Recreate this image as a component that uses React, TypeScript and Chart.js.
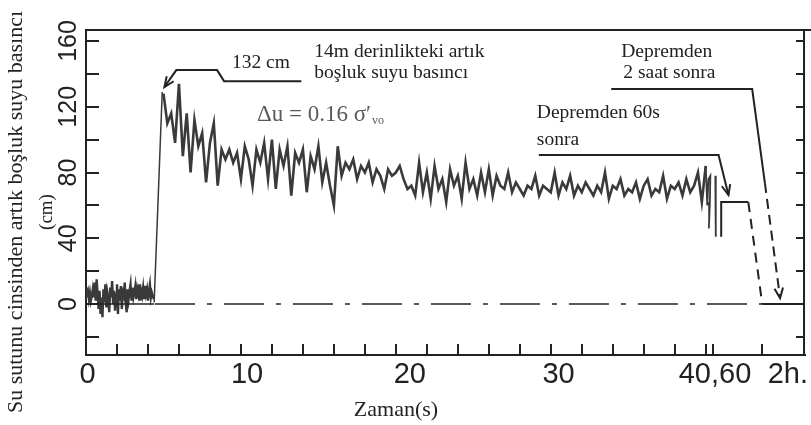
import React, { useEffect, useRef } from "react";
import { Chart, registerables } from "chart.js";
Chart.register(...registerables);

// ---------- data (time in s; after 40 s the axis is compressed: 40.5 = 60 s, 43.65 = 2 h) ----------
const PRE_STEP = 0.0625;
const PRE_VALUES = [
  10, 6, 8, 3, 7, 2, 5, 9, 4, 13, 2, 15, 6, -3, 8, -6, 4, -8, 9, 1,
  12, -2, 7, 3, -5, 10, 4, 14, 0, 8, -4, 6, 12, -6, 9, 2, 11, -3, 7, 5,
  13, 1, -5, 9, 3, 8, 12, 2, 10, 4, 7, 11, 3, 9, 6, 12, 2, 8, 5, 10,
  3, 11, 6, 9, 2, 8, 12, 4, 7, 5, 3,
];
const PRE_BASE_TIMES = [0, 4.4];
const PRE_BASE_VALUES = [0, 0];
const RISE_TIMES = [4.4, 4.92];
const RISE_VALUES = [1, 129];
const MAIN_START = 5;
const MAIN_STEP = 0.25;
const MAIN_VALUES = [
  128, 110, 116, 98, 134, 90, 116, 80, 112, 96, 104, 74, 98, 110, 72, 94,
  88, 94, 86, 92, 76, 96, 88, 72, 94, 86, 98, 76, 100, 70, 94, 84,
  96, 66, 92, 86, 94, 68, 90, 82, 96, 74, 86, 72, 60, 96, 78, 86,
  82, 88, 76, 84, 80, 86, 74, 82, 78, 70, 82, 78, 80, 84, 76, 70,
  72, 66, 86, 68, 80, 64, 84, 70, 76, 62, 82, 72, 78, 64, 86, 70,
  76, 66, 80, 68, 82, 66, 78, 72, 70, 80, 68, 74, 70, 66, 72, 70,
  78, 66, 72, 70, 68, 80, 66, 74, 70, 78, 66, 72, 68, 74, 70, 66,
  72, 68, 80, 64, 72, 70, 76, 66, 70, 68, 74, 64, 72, 76, 66, 70,
  68, 78, 64, 72, 70, 74, 66, 76, 68, 72, 80, 62, 84,
];
const END_SQUIGGLE_TIMES = [40.0, 40.1, 40.18, 40.3, 40.27, 40.22, 40.2];
const END_SQUIGGLE_VALUES = [84, 60, 76, 78, 62, 50, 46];
const END_DROP_TIMES = [40.62, 40.65];
const END_DROP_VALUES = [78, 41];
const STEP_TIMES = [41.0, 41.0, 42.75];
const STEP_VALUES = [41, 62, 62];
const DISSIPATION_TIMES = [42.75, 43.65];
const DISSIPATION_VALUES = [62, 0];
const AFTER_TIMES = [43.65, 46.41];
const AFTER_VALUES = [0, 0];
const BASELINE_TIMES = [4.45, 43.65];
const BASELINE_VALUES = [0, 0];

// ---------- axes ----------
const X_MIN = 0;
const X_MAX = 46.41;
const Y_MIN = -31;
const Y_MAX = 166.7;
const X_LABEL_POS = [0.1, 10.4, 20.9, 30.5, 40.6, 45.3];
const X_LABELS = ["0", "10", "20", "30", "40,60", "2h."];
const X_TICK_MARKS = [2, 4, 6, 8, 10, 12, 14, 16, 18, 20, 22, 24, 26, 28, 30, 32, 34, 36, 38, 40, 40.5, 43.65];
const Y_LABELS = [0, 40, 80, 120, 160];
const Y_TICK_MARKS = [-20, 0, 20, 40, 60, 80, 100, 120, 140, 160];

// ---------- annotations (data units) ----------
const PEAK_ARROW = [[13.9, 135.6], [8.91, 135.6], [8.46, 142.3], [5.83, 142.3], [5.06, 132]];
const SIXTY_ARROW = [[29.23, 90.6], [40.83, 90.6], [41.47, 66.3]];
const TWOH_ARROW_SOLID = [[33.9, 130.8], [43.0, 130.8], [43.82, 73.6]];
const TWOH_ARROW_DASHED = [[43.82, 73.6], [44.8, 3.6]];
const TEXTS = [
  { text: "132 cm", x: 9.42, y: 146.6 },
  { text: "14m derinlikteki artık", x: 14.74, y: 153.3 },
  { text: "boşluk suyu basıncı", x: 14.74, y: 140.5 },
  { text: "Depremden", x: 34.55, y: 153.3 },
  { text: "2 saat sonra", x: 34.68, y: 140.5 },
  { text: "Depremden 60s", x: 29.1, y: 116 },
  { text: "sonra", x: 29.1, y: 99.8 },
];
const DELTA_POS = { x: 11.03, y: 115 };

const Y_TITLE = "Su sutunu cinsinden artık boşluk suyu basıncı";
const Y_UNIT = "(cm)";
const X_TITLE = "Zaman(s)";

const INK = "#222";
const TRACE = "#3a3a3a";
const SERIF = "'Liberation Serif', 'Times New Roman', serif";
const SANS = "'Liberation Sans', Arial, sans-serif";

const pts = (ts: number[], vs: number[]) => ts.map((t, i) => ({ x: t, y: vs[i] }));
const seq = (start: number, step: number, vs: number[]) => vs.map((v, i) => ({ x: start + i * step, y: v }));

function arrowHead(ctx: CanvasRenderingContext2D, fx: number, fy: number, tx: number, ty: number) {
  const a = Math.atan2(ty - fy, tx - fx);
  const len = 11;
  ctx.beginPath();
  ctx.moveTo(tx - len * Math.cos(a - 0.4), ty - len * Math.sin(a - 0.4));
  ctx.lineTo(tx, ty);
  ctx.lineTo(tx - len * Math.cos(a + 0.4), ty - len * Math.sin(a + 0.4));
  ctx.stroke();
}

const figurePlugin = {
  id: "figure",
  afterDraw(chart: any) {
    const ctx: CanvasRenderingContext2D = chart.ctx;
    const ca = chart.chartArea;
    const sx = chart.scales.x;
    const sy = chart.scales.y;
    const px = (v: number) => sx.getPixelForValue(v);
    const py = (v: number) => sy.getPixelForValue(v);
    ctx.save();
    ctx.strokeStyle = INK;
    ctx.fillStyle = INK;
    ctx.lineCap = "butt";
    // frame top & right
    ctx.lineWidth = 2;
    ctx.beginPath();
    ctx.moveTo(ca.left, ca.top);
    ctx.lineTo(chart.width, ca.top);
    ctx.moveTo(ca.right - 1, ca.top);
    ctx.lineTo(ca.right - 1, ca.bottom);
    ctx.stroke();
    // inward tick marks
    ctx.beginPath();
    X_TICK_MARKS.forEach((v) => {
      const x = Math.round(px(v));
      ctx.moveTo(x, ca.bottom);
      ctx.lineTo(x, ca.bottom - 11);
    });
    Y_TICK_MARKS.forEach((v) => {
      const y = Math.round(py(v));
      ctx.moveTo(ca.left, y);
      ctx.lineTo(ca.left + 13, y);
      ctx.moveTo(ca.right, y);
      ctx.lineTo(ca.right - 9, y);
    });
    ctx.stroke();

    // annotation leader lines
    const poly = (p: number[][], dash: number[]) => {
      ctx.setLineDash(dash);
      ctx.beginPath();
      p.forEach(([t, v], i) => (i ? ctx.lineTo(px(t), py(v)) : ctx.moveTo(px(t), py(v))));
      ctx.stroke();
      ctx.setLineDash([]);
    };
    ctx.lineWidth = 2;
    poly(PEAK_ARROW, []);
    const pa = PEAK_ARROW.length;
    arrowHead(ctx, px(PEAK_ARROW[pa - 2][0]), py(PEAK_ARROW[pa - 2][1]), px(PEAK_ARROW[pa - 1][0]), py(PEAK_ARROW[pa - 1][1]));
    poly(SIXTY_ARROW, []);
    const sa = SIXTY_ARROW.length;
    arrowHead(ctx, px(SIXTY_ARROW[sa - 2][0]), py(SIXTY_ARROW[sa - 2][1]), px(SIXTY_ARROW[sa - 1][0]), py(SIXTY_ARROW[sa - 1][1]));
    poly(TWOH_ARROW_SOLID, []);
    poly(TWOH_ARROW_DASHED, [10, 6]);
    arrowHead(ctx, px(TWOH_ARROW_DASHED[0][0]), py(TWOH_ARROW_DASHED[0][1]), px(TWOH_ARROW_DASHED[1][0]), py(TWOH_ARROW_DASHED[1][1]));

    // annotation texts
    ctx.textAlign = "left";
    ctx.textBaseline = "middle";
    ctx.font = `19.5px ${SERIF}`;
    TEXTS.forEach((t) => ctx.fillText(t.text, px(t.x), py(t.y)));
    ctx.fillStyle = "#5a5a5a";
    const dx = px(DELTA_POS.x);
    const dy = py(DELTA_POS.y);
    const main = "Δu = 0.16 σ′";
    ctx.font = `23px ${SERIF}`;
    ctx.fillText(main, dx, dy);
    const w = ctx.measureText(main).width;
    ctx.font = `12px ${SERIF}`;
    ctx.fillText("vo", dx + w + 1, dy + 6);

    // axis titles
    ctx.fillStyle = INK;
    ctx.textAlign = "center";
    ctx.font = `22px ${SERIF}`;
    ctx.fillText(X_TITLE, 396, 410);
    ctx.save();
    ctx.translate(16, 212);
    ctx.rotate(-Math.PI / 2);
    ctx.font = `22px ${SERIF}`;
    ctx.fillText(Y_TITLE, 0, 0);
    ctx.restore();
    ctx.save();
    ctx.translate(47, 212);
    ctx.rotate(-Math.PI / 2);
    ctx.font = `19px ${SERIF}`;
    ctx.fillText(Y_UNIT, 0, 0);
    ctx.restore();
    ctx.restore();
  },
};

export default function App() {
  const ref = useRef<HTMLCanvasElement | null>(null);
  useEffect(() => {
    if (!ref.current) return;
    const line = (data: any[], extra: any = {}) => ({
      data,
      borderColor: TRACE,
      borderWidth: 2.2,
      pointRadius: 0,
      tension: 0,
      fill: false,
      spanGaps: false,
      ...extra,
    });
    const chart = new Chart(ref.current, {
      type: "line",
      data: {
        datasets: [
          line(pts(BASELINE_TIMES, BASELINE_VALUES), { borderWidth: 1.6, borderDash: [40, 12, 5, 12], borderColor: INK }),
          line(pts(PRE_BASE_TIMES, PRE_BASE_VALUES), { borderWidth: 1.4, borderColor: INK }),
          line(seq(0, PRE_STEP, PRE_VALUES), { borderWidth: 2.4 }),
          line(pts(RISE_TIMES, RISE_VALUES), { borderWidth: 1.5 }),
          line(seq(MAIN_START, MAIN_STEP, MAIN_VALUES), { borderWidth: 2.6 }),
          line(pts(END_SQUIGGLE_TIMES, END_SQUIGGLE_VALUES), { borderWidth: 1.8 }),
          line(pts(END_DROP_TIMES, END_DROP_VALUES), { borderWidth: 1.8 }),
          line(pts(STEP_TIMES, STEP_VALUES), { borderWidth: 2, borderColor: INK }),
          line(pts(DISSIPATION_TIMES, DISSIPATION_VALUES), { borderWidth: 2, borderDash: [10, 7], borderColor: INK }),
          line(pts(AFTER_TIMES, AFTER_VALUES), { borderWidth: 2, borderColor: INK }),
        ],
      },
      options: {
        animation: false,
        responsive: true,
        maintainAspectRatio: false,
        layout: { padding: { top: 30, right: 1, left: 0, bottom: 0 } },
        plugins: { legend: { display: false }, tooltip: { enabled: false }, title: { display: false } },
        scales: {
          x: {
            type: "linear",
            min: X_MIN,
            max: X_MAX,
            grid: { display: false, drawTicks: false },
            border: { display: true, color: INK, width: 2 },
            afterBuildTicks: (s: any) => {
              s.ticks = X_LABEL_POS.map((v) => ({ value: v }));
            },
            afterFit: (s: any) => {
              s.height = 70;
            },
            ticks: {
              autoSkip: false,
              maxRotation: 0,
              minRotation: 0,
              padding: 3,
              color: INK,
              font: { family: SANS, size: 29 },
              callback: (_v: any, i: number) => X_LABELS[i],
            },
          },
          y: {
            type: "linear",
            min: Y_MIN,
            max: Y_MAX,
            grid: { display: false, drawTicks: false },
            border: { display: true, color: INK, width: 2 },
            afterBuildTicks: (s: any) => {
              s.ticks = Y_LABELS.map((v) => ({ value: v }));
            },
            afterFit: (s: any) => {
              s.width = 86;
            },
            ticks: {
              autoSkip: false,
              minRotation: 90,
              maxRotation: 90,
              crossAlign: "center",
              padding: -4,
              color: INK,
              font: { family: SANS, size: 25 },
              callback: (v: any) => String(v),
            },
          },
        },
      },
      plugins: [figurePlugin],
    } as any);
    return () => chart.destroy();
  }, []);
  return (
    <div style={{ position: "fixed", left: 0, top: 0, width: 811, height: 425, background: "#fff" }}>
      <canvas ref={ref} />
    </div>
  );
}
